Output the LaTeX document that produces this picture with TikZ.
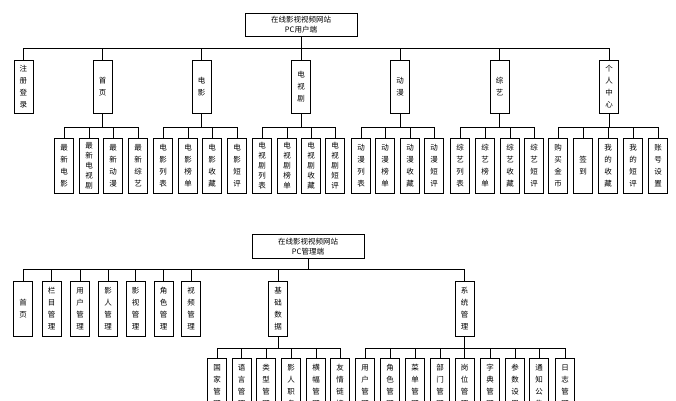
\documentclass[tikz,border=0pt]{standalone}
\usepackage{fontspec}
\newfontfamily\cjk{Noto Sans CJK SC}
\begin{document}
\begin{tikzpicture}[x=1pt,y=-1pt,line width=0.7pt,
  vbox/.style={draw,minimum width=19,inner sep=1pt,align=center,anchor=north,font=\cjk\fontsize{7.5}{12}\selectfont},
  five/.style={font=\cjk\fontsize{7.5}{10}\selectfont},
  rbox/.style={draw,minimum width=112,minimum height=23,inner sep=1pt,align=center,anchor=north,font=\cjk\fontsize{7.5}{10}\selectfont}]
\clip (0,0) rectangle (676,400);
\fill[white] (0,0) rectangle (676,400);
% ---------- top ----------
\node[rbox] (r1) at (301,13) {在线影视视频网站\\PC用户端};
\coordinate (b1l) at (23.5,48); \coordinate (b1r) at (609,48);
\draw (r1.south) -- (r1.south |- b1l);
\draw (b1l) -- (b1r);
\foreach \n/\x/\t in {zc/23.5/注\\册\\登\\录, sy/102.5/首\\页, dy/201.5/电\\影, ds/301/电\\视\\剧, dm/400/动\\漫, zy/499.5/综\\艺, gr/609/个\\人\\中\\心}{
  \node[vbox,minimum height=53] (\n) at (\x,60) {\t};
  \draw (\n.north) -- (\n.north |- b1l);
}
\foreach \p/\l/\r in {sy/64/138, dy/163/237, ds/262/335, dm/361/434, zy/460/534, gr/558/658}{
  \coordinate (\p L) at (\l,127); \coordinate (\p R) at (\r,127);
  \draw (\p.south) -- (\p.south |- \p L);
  \draw (\p L) -- (\p R);
}
\foreach \p/\n/\x/\s/\t in {
 sy/a1/64/vbox/最\\新\\电\\影, sy/a2/89/five/最\\新\\电\\视\\剧, sy/a3/113/vbox/最\\新\\动\\漫, sy/a4/138/vbox/最\\新\\综\\艺,
 dy/b1/163/vbox/电\\影\\列\\表, dy/b2/188/vbox/电\\影\\榜\\单, dy/b3/212/vbox/电\\影\\收\\藏, dy/b4/237/vbox/电\\影\\短\\评,
 ds/c1/262/five/电\\视\\剧\\列\\表, ds/c2/287/five/电\\视\\剧\\榜\\单, ds/c3/311/five/电\\视\\剧\\收\\藏, ds/c4/335/five/电\\视\\剧\\短\\评,
 dm/d1/361/vbox/动\\漫\\列\\表, dm/d2/385/vbox/动\\漫\\榜\\单, dm/d3/410/vbox/动\\漫\\收\\藏, dm/d4/434/vbox/动\\漫\\短\\评,
 zy/e1/460/vbox/综\\艺\\列\\表, zy/e2/485/vbox/综\\艺\\榜\\单, zy/e3/510/vbox/综\\艺\\收\\藏, zy/e4/534/vbox/综\\艺\\短\\评,
 gr/f1/558/vbox/购\\买\\金\\币, gr/f2/583/vbox/签\\到, gr/f3/608/vbox/我\\的\\收\\藏, gr/f4/633/vbox/我\\的\\短\\评, gr/f5/658/vbox/账\\号\\设\\置}{
  \node[vbox,\s,minimum height=55] (\n) at (\x,138) {\t};
  \draw (\n.north) -- (\n.north |- \p L);
}
% ---------- bottom ----------
\node[rbox,minimum height=24] (r2) at (308,234) {在线影视视频网站\\PC管理端};
\coordinate (b2l) at (23,269); \coordinate (b2r) at (464.5,269);
\draw (r2.south) -- (r2.south |- b2l);
\draw (b2l) -- (b2r);
\foreach \n/\x/\t in {m1/23/首\\页, m2/51.5/栏\\目\\管\\理, m3/80/用\\户\\管\\理, m4/108/影\\人\\管\\理, m5/135.5/影\\视\\管\\理, m6/163.5/角\\色\\管\\理, m7/191/视\\频\\管\\理, jc/278/基\\础\\数\\据, xt/464.5/系\\统\\管\\理}{
  \node[vbox,minimum height=55] (\n) at (\x,281) {\t};
  \draw (\n.north) -- (\n.north |- b2l);
}
\foreach \p/\l/\r in {jc/217/340, xt/365/565}{
  \coordinate (\p L) at (\l,348); \coordinate (\p R) at (\r,348);
  \draw (\p.south) -- (\p.south |- \p L);
  \draw (\p L) -- (\p R);
}
\foreach \p/\n/\x/\t in {
 jc/g1/217/国\\家\\管\\理, jc/g2/241.5/语\\言\\管\\理, jc/g3/266/类\\型\\管\\理, jc/g4/291/影\\人\\职\\务, jc/g5/316/横\\幅\\管\\理, jc/g6/340/友\\情\\链\\接,
 xt/h1/365/用\\户\\管\\理, xt/h2/390/角\\色\\管\\理, xt/h3/415/菜\\单\\管\\理, xt/h4/440/部\\门\\管\\理, xt/h5/464.5/岗\\位\\管\\理, xt/h6/490/字\\典\\管\\理, xt/h7/515/参\\数\\设\\置, xt/h8/539/通\\知\\公\\告, xt/h9/565/日\\志\\管\\理}{
  \node[vbox,minimum height=55] (\n) at (\x,358) {\t};
  \draw (\n.north) -- (\n.north |- \p L);
}
\end{tikzpicture}
\end{document}
